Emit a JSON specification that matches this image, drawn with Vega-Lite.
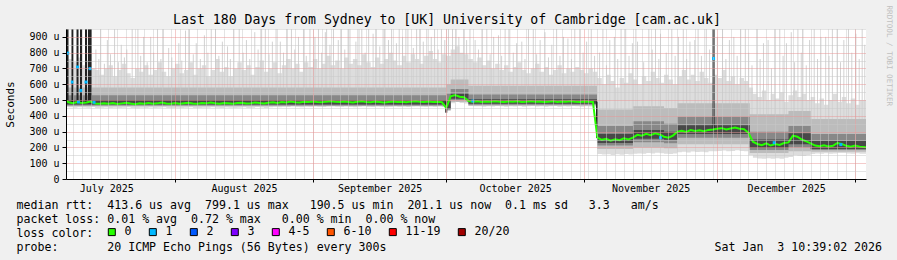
{
"$schema":"https://vega.github.io/schema/vega-lite/v6.json",
"width":800,"height":150,"autosize":"none",
"padding":{"left":66,"top":29,"right":31,"bottom":81},
"background":"#f0f0f0",
"config":{"view":{"fill":"#ffffff","stroke":null},"font":"DejaVu Sans Mono",
 "axis":{"labelFont":"DejaVu Sans Mono","titleFont":"DejaVu Sans Mono","labelColor":"#000","titleColor":"#000","titleFontWeight":"normal"}},
"title":{"text":"Last 180 Days from Sydney to [UK] University of Cambridge [cam.ac.uk]","font":"DejaVu Sans Mono","fontSize":13.2,"fontWeight":"normal","color":"#000","anchor":"middle","dx":-19,"dy":26},
"datasets":{
"day":[
{"d":"2025-07-07","m":505,"lo":458,"hi":780},{"d":"2025-07-08","m":486,"lo":455,"hi":760},{"d":"2025-07-09","m":480,"lo":452,"hi":740},{"d":"2025-07-10","m":488,"lo":455,"hi":770},{"d":"2025-07-11","m":481,"lo":453,"hi":720},{"d":"2025-07-12","m":484,"lo":452,"hi":750},{"d":"2025-07-13","m":490,"lo":456,"hi":700},{"d":"2025-07-14","m":478,"lo":450,"hi":690},{"d":"2025-07-15","m":476,"lo":451,"hi":660},{"d":"2025-07-16","m":480,"lo":453,"hi":700},
{"d":"2025-07-17","m":477,"lo":450,"hi":720},{"d":"2025-07-18","m":481,"lo":452,"hi":650},{"d":"2025-07-19","m":475,"lo":449,"hi":690},{"d":"2025-07-20","m":479,"lo":451,"hi":730},{"d":"2025-07-21","m":483,"lo":454,"hi":670},{"d":"2025-07-22","m":478,"lo":450,"hi":640},{"d":"2025-07-23","m":474,"lo":448,"hi":700},{"d":"2025-07-24","m":480,"lo":452,"hi":680},{"d":"2025-07-25","m":477,"lo":450,"hi":720},{"d":"2025-07-26","m":482,"lo":453,"hi":660},
{"d":"2025-07-27","m":476,"lo":449,"hi":690},{"d":"2025-07-28","m":479,"lo":451,"hi":740},{"d":"2025-07-29","m":484,"lo":455,"hi":680},{"d":"2025-07-30","m":478,"lo":450,"hi":650},{"d":"2025-07-31","m":476,"lo":449,"hi":700},{"d":"2025-08-01","m":481,"lo":452,"hi":730},{"d":"2025-08-02","m":477,"lo":450,"hi":670},{"d":"2025-08-03","m":480,"lo":452,"hi":690},{"d":"2025-08-04","m":483,"lo":454,"hi":740},{"d":"2025-08-05","m":478,"lo":450,"hi":660},
{"d":"2025-08-06","m":476,"lo":449,"hi":700},{"d":"2025-08-07","m":481,"lo":452,"hi":720},{"d":"2025-08-08","m":479,"lo":451,"hi":650},{"d":"2025-08-09","m":484,"lo":455,"hi":690},{"d":"2025-08-10","m":480,"lo":452,"hi":760},{"d":"2025-08-11","m":477,"lo":450,"hi":680},{"d":"2025-08-12","m":482,"lo":453,"hi":710},{"d":"2025-08-13","m":479,"lo":451,"hi":650},{"d":"2025-08-14","m":476,"lo":449,"hi":700},{"d":"2025-08-15","m":481,"lo":452,"hi":740},
{"d":"2025-08-16","m":483,"lo":454,"hi":690},{"d":"2025-08-17","m":478,"lo":450,"hi":720},{"d":"2025-08-18","m":480,"lo":452,"hi":660},{"d":"2025-08-19","m":485,"lo":456,"hi":710},{"d":"2025-08-20","m":481,"lo":453,"hi":750},{"d":"2025-08-21","m":478,"lo":450,"hi":680},{"d":"2025-08-22","m":483,"lo":454,"hi":700},{"d":"2025-08-23","m":486,"lo":457,"hi":740},{"d":"2025-08-24","m":482,"lo":454,"hi":670},{"d":"2025-08-25","m":488,"lo":458,"hi":720},
{"d":"2025-08-26","m":485,"lo":456,"hi":760},{"d":"2025-08-27","m":490,"lo":460,"hi":700},{"d":"2025-08-28","m":486,"lo":457,"hi":730},{"d":"2025-08-29","m":484,"lo":455,"hi":680},{"d":"2025-08-30","m":489,"lo":459,"hi":740},{"d":"2025-08-31","m":487,"lo":457,"hi":710},{"d":"2025-09-01","m":491,"lo":461,"hi":760},{"d":"2025-09-02","m":488,"lo":458,"hi":700},{"d":"2025-09-03","m":486,"lo":456,"hi":730},{"d":"2025-09-04","m":490,"lo":460,"hi":780},
{"d":"2025-09-05","m":493,"lo":462,"hi":720},{"d":"2025-09-06","m":489,"lo":459,"hi":750},{"d":"2025-09-07","m":487,"lo":457,"hi":700},{"d":"2025-09-08","m":491,"lo":461,"hi":770},{"d":"2025-09-09","m":488,"lo":458,"hi":730},{"d":"2025-09-10","m":485,"lo":455,"hi":760},{"d":"2025-09-11","m":489,"lo":459,"hi":720},{"d":"2025-09-12","m":492,"lo":462,"hi":790},{"d":"2025-09-13","m":488,"lo":458,"hi":740},{"d":"2025-09-14","m":486,"lo":456,"hi":710},
{"d":"2025-09-15","m":490,"lo":460,"hi":770},{"d":"2025-09-16","m":487,"lo":457,"hi":730},{"d":"2025-09-17","m":484,"lo":454,"hi":760},{"d":"2025-09-18","m":488,"lo":458,"hi":800},{"d":"2025-09-19","m":491,"lo":461,"hi":750},{"d":"2025-09-20","m":487,"lo":457,"hi":720},{"d":"2025-09-21","m":489,"lo":459,"hi":780},{"d":"2025-09-22","m":486,"lo":456,"hi":740},{"d":"2025-09-23","m":490,"lo":460,"hi":790},{"d":"2025-09-24","m":493,"lo":463,"hi":760},
{"d":"2025-09-25","m":489,"lo":459,"hi":730},{"d":"2025-09-26","m":487,"lo":457,"hi":780},{"d":"2025-09-27","m":491,"lo":461,"hi":810},{"d":"2025-09-28","m":488,"lo":458,"hi":760},{"d":"2025-09-29","m":490,"lo":460,"hi":740},{"d":"2025-09-30","m":487,"lo":456,"hi":790},{"d":"2025-10-01","m":450,"lo":430,"hi":780},{"d":"2025-10-02","m":524,"lo":480,"hi":820},{"d":"2025-10-03","m":532,"lo":488,"hi":840},{"d":"2025-10-04","m":521,"lo":482,"hi":800},
{"d":"2025-10-05","m":518,"lo":478,"hi":790},{"d":"2025-10-06","m":494,"lo":462,"hi":760},{"d":"2025-10-07","m":490,"lo":460,"hi":740},{"d":"2025-10-08","m":492,"lo":461,"hi":770},{"d":"2025-10-09","m":488,"lo":458,"hi":720},{"d":"2025-10-10","m":491,"lo":460,"hi":750},{"d":"2025-10-11","m":489,"lo":459,"hi":700},{"d":"2025-10-12","m":493,"lo":462,"hi":730},{"d":"2025-10-13","m":490,"lo":460,"hi":690},{"d":"2025-10-14","m":487,"lo":457,"hi":720},
{"d":"2025-10-15","m":491,"lo":461,"hi":680},{"d":"2025-10-16","m":489,"lo":459,"hi":710},{"d":"2025-10-17","m":492,"lo":462,"hi":740},{"d":"2025-10-18","m":488,"lo":458,"hi":690},{"d":"2025-10-19","m":490,"lo":460,"hi":670},{"d":"2025-10-20","m":493,"lo":462,"hi":700},{"d":"2025-10-21","m":489,"lo":459,"hi":730},{"d":"2025-10-22","m":491,"lo":461,"hi":680},{"d":"2025-10-23","m":487,"lo":457,"hi":710},{"d":"2025-10-24","m":490,"lo":460,"hi":660},
{"d":"2025-10-25","m":492,"lo":462,"hi":690},{"d":"2025-10-26","m":488,"lo":458,"hi":720},{"d":"2025-10-27","m":491,"lo":461,"hi":670},{"d":"2025-10-28","m":489,"lo":459,"hi":700},{"d":"2025-10-29","m":493,"lo":463,"hi":680},{"d":"2025-10-30","m":490,"lo":460,"hi":710},{"d":"2025-10-31","m":488,"lo":458,"hi":690},{"d":"2025-11-01","m":491,"lo":461,"hi":670},{"d":"2025-11-02","m":489,"lo":459,"hi":700},{"d":"2025-11-03","m":488,"lo":458,"hi":680},
{"d":"2025-11-04","m":262,"lo":158,"hi":640},{"d":"2025-11-05","m":248,"lo":155,"hi":600},{"d":"2025-11-06","m":255,"lo":157,"hi":660},{"d":"2025-11-07","m":243,"lo":152,"hi":620},{"d":"2025-11-08","m":252,"lo":156,"hi":580},{"d":"2025-11-09","m":246,"lo":154,"hi":640},{"d":"2025-11-10","m":258,"lo":158,"hi":610},{"d":"2025-11-11","m":250,"lo":155,"hi":670},{"d":"2025-11-12","m":262,"lo":160,"hi":630},{"d":"2025-11-13","m":280,"lo":162,"hi":600},
{"d":"2025-11-14","m":274,"lo":160,"hi":650},{"d":"2025-11-15","m":286,"lo":165,"hi":620},{"d":"2025-11-16","m":278,"lo":162,"hi":680},{"d":"2025-11-17","m":290,"lo":166,"hi":640},{"d":"2025-11-18","m":282,"lo":163,"hi":610},{"d":"2025-11-19","m":268,"lo":160,"hi":660},{"d":"2025-11-20","m":262,"lo":158,"hi":630},{"d":"2025-11-21","m":275,"lo":162,"hi":600},{"d":"2025-11-22","m":300,"lo":170,"hi":650},{"d":"2025-11-23","m":306,"lo":172,"hi":690},
{"d":"2025-11-24","m":298,"lo":168,"hi":630},{"d":"2025-11-25","m":310,"lo":174,"hi":660},{"d":"2025-11-26","m":304,"lo":171,"hi":620},{"d":"2025-11-27","m":308,"lo":173,"hi":680},{"d":"2025-11-28","m":302,"lo":170,"hi":640},{"d":"2025-11-29","m":311,"lo":175,"hi":610},{"d":"2025-11-30","m":314,"lo":176,"hi":660},{"d":"2025-12-01","m":318,"lo":178,"hi":640},{"d":"2025-12-02","m":322,"lo":180,"hi":690},{"d":"2025-12-03","m":314,"lo":176,"hi":620},
{"d":"2025-12-04","m":320,"lo":178,"hi":650},{"d":"2025-12-05","m":326,"lo":182,"hi":600},{"d":"2025-12-06","m":318,"lo":178,"hi":640},{"d":"2025-12-07","m":316,"lo":176,"hi":620},{"d":"2025-12-08","m":292,"lo":150,"hi":580},{"d":"2025-12-09","m":236,"lo":135,"hi":540},{"d":"2025-12-10","m":222,"lo":130,"hi":520},{"d":"2025-12-11","m":214,"lo":128,"hi":560},{"d":"2025-12-12","m":226,"lo":132,"hi":500},{"d":"2025-12-13","m":212,"lo":128,"hi":540},
{"d":"2025-12-14","m":222,"lo":131,"hi":510},{"d":"2025-12-15","m":216,"lo":129,"hi":550},{"d":"2025-12-16","m":228,"lo":134,"hi":490},{"d":"2025-12-17","m":232,"lo":140,"hi":530},{"d":"2025-12-18","m":275,"lo":150,"hi":560},{"d":"2025-12-19","m":268,"lo":148,"hi":520},{"d":"2025-12-20","m":250,"lo":145,"hi":540},{"d":"2025-12-21","m":238,"lo":150,"hi":500},{"d":"2025-12-22","m":226,"lo":158,"hi":520},{"d":"2025-12-23","m":212,"lo":162,"hi":480},
{"d":"2025-12-24","m":208,"lo":160,"hi":510},{"d":"2025-12-25","m":214,"lo":163,"hi":470},{"d":"2025-12-26","m":206,"lo":160,"hi":500},{"d":"2025-12-27","m":210,"lo":162,"hi":540},{"d":"2025-12-28","m":228,"lo":165,"hi":490},{"d":"2025-12-29","m":222,"lo":164,"hi":520},{"d":"2025-12-30","m":210,"lo":162,"hi":480},{"d":"2025-12-31","m":204,"lo":160,"hi":510},{"d":"2026-01-01","m":212,"lo":163,"hi":470},{"d":"2026-01-02","m":205,"lo":160,"hi":500},
{"d":"2026-01-03T10:39Z","m":201,"lo":160,"hi":500}
],
"band":[
{"d":"2025-07-07","a1":460,"a2":580,"b1":466,"b2":530,"c1":472,"c2":500},
{"d":"2025-10-01","a1":436,"a2":600,"b1":440,"b2":540,"c1":444,"c2":492},
{"d":"2025-10-02","a1":488,"a2":630,"b1":500,"b2":570,"c1":508,"c2":538},
{"d":"2025-10-06","a1":464,"a2":590,"b1":470,"b2":535,"c1":476,"c2":505},
{"d":"2025-11-03T22:00Z","a1":190,"a2":440,"b1":212,"b2":335,"c1":228,"c2":285},
{"d":"2025-11-12","a1":200,"a2":460,"b1":232,"b2":365,"c1":255,"c2":310},
{"d":"2025-11-19","a1":195,"a2":450,"b1":226,"b2":350,"c1":248,"c2":300},
{"d":"2025-11-22","a1":220,"a2":480,"b1":262,"b2":395,"c1":285,"c2":340},
{"d":"2025-12-08T07:00Z","a1":165,"a2":410,"b1":183,"b2":300,"c1":196,"c2":250},
{"d":"2025-12-17","a1":175,"a2":430,"b1":200,"b2":335,"c1":220,"c2":290},
{"d":"2025-12-22","a1":172,"a2":380,"b1":183,"b2":285,"c1":190,"c2":240},
{"d":"2026-01-03T10:39Z","a1":172,"a2":380,"b1":183,"b2":285,"c1":190,"c2":240}
],
"spike":[
{"t":"2025-07-14T04:00Z","lo":560,"hi":820},{"t":"2025-07-14T20:00Z","lo":560,"hi":760},{"t":"2025-07-15T06:00Z","lo":560,"hi":950},{"t":"2025-07-16T02:00Z","lo":560,"hi":730},{"t":"2025-07-16T18:00Z","lo":560,"hi":880},{"t":"2025-07-17T11:00Z","lo":560,"hi":790},{"t":"2025-07-18T09:00Z","lo":560,"hi":950},{"t":"2025-07-19T05:00Z","lo":560,"hi":740},{"t":"2025-07-19T21:00Z","lo":560,"hi":850},{"t":"2025-07-20T14:00Z","lo":560,"hi":770},
{"t":"2025-07-21T03:00Z","lo":560,"hi":820},{"t":"2025-07-22T08:00Z","lo":560,"hi":950},{"t":"2025-07-23T15:00Z","lo":560,"hi":950},{"t":"2025-07-24T06:00Z","lo":560,"hi":780},{"t":"2025-07-24T22:00Z","lo":560,"hi":900},{"t":"2025-07-25T17:00Z","lo":560,"hi":740},{"t":"2025-07-26T12:00Z","lo":560,"hi":900},{"t":"2025-07-27T04:00Z","lo":560,"hi":800},{"t":"2025-07-28T01:00Z","lo":560,"hi":950},{"t":"2025-07-28T19:00Z","lo":560,"hi":760},
{"t":"2025-07-29T08:00Z","lo":560,"hi":950},{"t":"2025-07-30T13:00Z","lo":560,"hi":830},{"t":"2025-07-31T06:00Z","lo":560,"hi":770},{"t":"2025-08-01T20:00Z","lo":560,"hi":860},{"t":"2025-08-02T12:00Z","lo":560,"hi":750},{"t":"2025-08-03T08:00Z","lo":560,"hi":940},{"t":"2025-08-04T05:00Z","lo":560,"hi":950},{"t":"2025-08-05T02:00Z","lo":560,"hi":790},{"t":"2025-08-05T18:00Z","lo":560,"hi":860},{"t":"2025-08-06T16:00Z","lo":560,"hi":760},
{"t":"2025-08-07T14:00Z","lo":560,"hi":910},{"t":"2025-08-08T09:00Z","lo":560,"hi":800},{"t":"2025-08-09T03:00Z","lo":560,"hi":950},{"t":"2025-08-10T02:00Z","lo":560,"hi":950},{"t":"2025-08-10T20:00Z","lo":560,"hi":780},{"t":"2025-08-11T15:00Z","lo":560,"hi":870},{"t":"2025-08-12T19:00Z","lo":560,"hi":840},{"t":"2025-08-13T10:00Z","lo":560,"hi":760},{"t":"2025-08-14T05:00Z","lo":560,"hi":950},{"t":"2025-08-15T10:00Z","lo":560,"hi":950},
{"t":"2025-08-16T07:00Z","lo":560,"hi":800},{"t":"2025-08-17T01:00Z","lo":560,"hi":880},{"t":"2025-08-17T19:00Z","lo":560,"hi":760},{"t":"2025-08-18T22:00Z","lo":560,"hi":930},{"t":"2025-08-19T16:00Z","lo":560,"hi":820},{"t":"2025-08-20T11:00Z","lo":560,"hi":950},{"t":"2025-08-21T07:00Z","lo":560,"hi":950},{"t":"2025-08-22T03:00Z","lo":560,"hi":790},{"t":"2025-08-22T21:00Z","lo":560,"hi":870},{"t":"2025-08-23T17:00Z","lo":560,"hi":950},
{"t":"2025-08-24T16:00Z","lo":560,"hi":870},{"t":"2025-08-25T09:00Z","lo":560,"hi":800},{"t":"2025-08-26T05:00Z","lo":560,"hi":950},{"t":"2025-08-27T04:00Z","lo":560,"hi":950},{"t":"2025-08-27T22:00Z","lo":560,"hi":820},{"t":"2025-08-28T18:00Z","lo":560,"hi":900},{"t":"2025-08-29T21:00Z","lo":560,"hi":950},{"t":"2025-08-30T12:00Z","lo":560,"hi":780},{"t":"2025-08-31T08:00Z","lo":560,"hi":950},{"t":"2025-09-01T11:00Z","lo":560,"hi":900},
{"t":"2025-09-02T06:00Z","lo":560,"hi":950},{"t":"2025-09-02T23:00Z","lo":560,"hi":800},{"t":"2025-09-03T19:00Z","lo":560,"hi":930},{"t":"2025-09-04T02:00Z","lo":560,"hi":950},{"t":"2025-09-04T20:00Z","lo":560,"hi":850},{"t":"2025-09-05T15:00Z","lo":560,"hi":950},{"t":"2025-09-06T17:00Z","lo":560,"hi":880},{"t":"2025-09-07T10:00Z","lo":560,"hi":950},{"t":"2025-09-08T04:00Z","lo":560,"hi":820},{"t":"2025-09-08T22:00Z","lo":560,"hi":950},
{"t":"2025-09-09T08:00Z","lo":560,"hi":950},{"t":"2025-09-10T16:00Z","lo":560,"hi":870},{"t":"2025-09-11T09:00Z","lo":560,"hi":950},{"t":"2025-09-12T00:00Z","lo":560,"hi":950},{"t":"2025-09-12T18:00Z","lo":560,"hi":800},{"t":"2025-09-13T13:00Z","lo":560,"hi":950},{"t":"2025-09-14T13:00Z","lo":560,"hi":920},{"t":"2025-09-15T06:00Z","lo":560,"hi":950},{"t":"2025-09-16T01:00Z","lo":560,"hi":840},{"t":"2025-09-16T19:00Z","lo":560,"hi":950},
{"t":"2025-09-17T05:00Z","lo":560,"hi":950},{"t":"2025-09-18T00:00Z","lo":560,"hi":880},{"t":"2025-09-18T17:00Z","lo":560,"hi":950},{"t":"2025-09-19T19:00Z","lo":560,"hi":860},{"t":"2025-09-20T10:00Z","lo":560,"hi":950},{"t":"2025-09-21T04:00Z","lo":560,"hi":900},{"t":"2025-09-21T22:00Z","lo":560,"hi":950},{"t":"2025-09-22T09:00Z","lo":560,"hi":950},{"t":"2025-09-23T14:00Z","lo":560,"hi":830},{"t":"2025-09-24T08:00Z","lo":560,"hi":950},
{"t":"2025-09-25T01:00Z","lo":560,"hi":950},{"t":"2025-09-25T20:00Z","lo":560,"hi":870},{"t":"2025-09-26T15:00Z","lo":560,"hi":950},{"t":"2025-09-27T15:00Z","lo":560,"hi":900},{"t":"2025-09-28T09:00Z","lo":560,"hi":950},{"t":"2025-09-29T04:00Z","lo":560,"hi":820},{"t":"2025-09-29T22:00Z","lo":560,"hi":950},{"t":"2025-09-30T16:00Z","lo":560,"hi":880},{"t":"2025-10-01T12:00Z","lo":560,"hi":950},{"t":"2025-10-02T10:00Z","lo":600,"hi":950},
{"t":"2025-10-03T05:00Z","lo":600,"hi":950},{"t":"2025-10-03T20:00Z","lo":600,"hi":900},{"t":"2025-10-04T22:00Z","lo":600,"hi":950},{"t":"2025-10-05T14:00Z","lo":600,"hi":880},{"t":"2025-10-06T08:00Z","lo":560,"hi":950},{"t":"2025-10-07T12:00Z","lo":560,"hi":880},{"t":"2025-10-08T06:00Z","lo":560,"hi":820},{"t":"2025-10-09T01:00Z","lo":560,"hi":950},{"t":"2025-10-10T03:00Z","lo":560,"hi":950},{"t":"2025-10-10T21:00Z","lo":560,"hi":790},
{"t":"2025-10-11T16:00Z","lo":560,"hi":900},{"t":"2025-10-12T18:00Z","lo":560,"hi":910},{"t":"2025-10-13T11:00Z","lo":560,"hi":780},{"t":"2025-10-14T06:00Z","lo":560,"hi":950},{"t":"2025-10-15T07:00Z","lo":560,"hi":950},{"t":"2025-10-16T02:00Z","lo":560,"hi":800},{"t":"2025-10-16T20:00Z","lo":560,"hi":860},{"t":"2025-10-18T00:00Z","lo":560,"hi":870},{"t":"2025-10-18T17:00Z","lo":560,"hi":760},{"t":"2025-10-19T12:00Z","lo":560,"hi":950},
{"t":"2025-10-20T14:00Z","lo":560,"hi":950},{"t":"2025-10-21T08:00Z","lo":560,"hi":790},{"t":"2025-10-22T03:00Z","lo":560,"hi":880},{"t":"2025-10-23T05:00Z","lo":560,"hi":930},{"t":"2025-10-24T00:00Z","lo":560,"hi":770},{"t":"2025-10-24T18:00Z","lo":560,"hi":850},{"t":"2025-10-25T20:00Z","lo":560,"hi":950},{"t":"2025-10-26T14:00Z","lo":560,"hi":780},{"t":"2025-10-27T09:00Z","lo":560,"hi":900},{"t":"2025-10-28T09:00Z","lo":560,"hi":890},
{"t":"2025-10-29T04:00Z","lo":560,"hi":760},{"t":"2025-10-29T22:00Z","lo":560,"hi":950},{"t":"2025-10-31T01:00Z","lo":560,"hi":950},{"t":"2025-10-31T19:00Z","lo":560,"hi":800},{"t":"2025-11-01T14:00Z","lo":560,"hi":870},{"t":"2025-11-02T15:00Z","lo":560,"hi":950},{"t":"2025-11-03T09:00Z","lo":560,"hi":780},
{"t":"2025-11-04T12:00Z","lo":380,"hi":800},{"t":"2025-11-05T06:00Z","lo":380,"hi":950},{"t":"2025-11-06T01:00Z","lo":380,"hi":720},{"t":"2025-11-06T19:00Z","lo":380,"hi":880},{"t":"2025-11-07T20:00Z","lo":380,"hi":900},{"t":"2025-11-08T14:00Z","lo":380,"hi":760},{"t":"2025-11-09T08:00Z","lo":380,"hi":950},{"t":"2025-11-10T09:00Z","lo":380,"hi":950},{"t":"2025-11-11T03:00Z","lo":380,"hi":780},{"t":"2025-11-11T21:00Z","lo":380,"hi":860},
{"t":"2025-11-12T16:00Z","lo":380,"hi":950},{"t":"2025-11-13T01:00Z","lo":380,"hi":870},{"t":"2025-11-14T10:00Z","lo":380,"hi":740},{"t":"2025-11-15T14:00Z","lo":380,"hi":950},{"t":"2025-11-16T08:00Z","lo":380,"hi":820},{"t":"2025-11-17T02:00Z","lo":380,"hi":950},{"t":"2025-11-17T20:00Z","lo":380,"hi":760},{"t":"2025-11-18T05:00Z","lo":380,"hi":920},{"t":"2025-11-19T12:00Z","lo":380,"hi":800},{"t":"2025-11-20T18:00Z","lo":380,"hi":950},
{"t":"2025-11-21T12:00Z","lo":380,"hi":780},{"t":"2025-11-22T06:00Z","lo":380,"hi":900},{"t":"2025-11-23T08:00Z","lo":380,"hi":950},{"t":"2025-11-24T02:00Z","lo":380,"hi":760},{"t":"2025-11-24T20:00Z","lo":380,"hi":870},{"t":"2025-11-25T22:00Z","lo":380,"hi":880},{"t":"2025-11-26T16:00Z","lo":380,"hi":950},{"t":"2025-11-27T10:00Z","lo":380,"hi":780},{"t":"2025-11-28T12:00Z","lo":380,"hi":950},{"t":"2025-11-29T06:00Z","lo":380,"hi":820},
{"t":"2025-12-01T00:00Z","lo":380,"hi":900},{"t":"2025-12-02T04:00Z","lo":380,"hi":950},{"t":"2025-12-02T22:00Z","lo":380,"hi":760},{"t":"2025-12-03T17:00Z","lo":380,"hi":880},{"t":"2025-12-04T17:00Z","lo":380,"hi":900},{"t":"2025-12-05T11:00Z","lo":380,"hi":780},{"t":"2025-12-06T06:00Z","lo":380,"hi":950},{"t":"2025-12-07T07:00Z","lo":380,"hi":950},{"t":"2025-12-08T01:00Z","lo":380,"hi":800},{"t":"2025-12-08T19:00Z","lo":340,"hi":720},
{"t":"2025-12-09T21:00Z","lo":340,"hi":950},{"t":"2025-12-10T15:00Z","lo":340,"hi":760},{"t":"2025-12-11T09:00Z","lo":340,"hi":860},{"t":"2025-12-12T10:00Z","lo":340,"hi":880},{"t":"2025-12-13T04:00Z","lo":340,"hi":700},{"t":"2025-12-13T22:00Z","lo":340,"hi":950},{"t":"2025-12-15T01:00Z","lo":340,"hi":950},{"t":"2025-12-15T19:00Z","lo":340,"hi":780},{"t":"2025-12-16T13:00Z","lo":340,"hi":860},{"t":"2025-12-17T15:00Z","lo":340,"hi":930},
{"t":"2025-12-18T09:00Z","lo":340,"hi":740},{"t":"2025-12-19T03:00Z","lo":340,"hi":950},{"t":"2025-12-19T21:00Z","lo":340,"hi":800},{"t":"2025-12-20T06:00Z","lo":340,"hi":950},{"t":"2025-12-21T00:00Z","lo":340,"hi":720},{"t":"2025-12-21T18:00Z","lo":340,"hi":880},{"t":"2025-12-22T19:00Z","lo":340,"hi":950},{"t":"2025-12-23T13:00Z","lo":340,"hi":760},{"t":"2025-12-24T07:00Z","lo":340,"hi":900},{"t":"2025-12-25T09:00Z","lo":340,"hi":900},
{"t":"2025-12-26T03:00Z","lo":340,"hi":780},{"t":"2025-12-26T21:00Z","lo":340,"hi":950},{"t":"2025-12-27T23:00Z","lo":340,"hi":950},{"t":"2025-12-28T17:00Z","lo":340,"hi":740},{"t":"2025-12-29T11:00Z","lo":340,"hi":880},{"t":"2025-12-30T12:00Z","lo":340,"hi":950},{"t":"2025-12-31T06:00Z","lo":340,"hi":800},{"t":"2026-01-01T04:00Z","lo":340,"hi":920},{"t":"2026-01-01T22:00Z","lo":340,"hi":760},{"t":"2026-01-02T14:00Z","lo":340,"hi":950},
{"t":"2026-01-03T04:00Z","lo":340,"hi":850}
],
"burst":[
{"t":"2025-07-07T18:50Z","lo":480,"hi":950},{"t":"2025-07-08T21:40Z","lo":480,"hi":950},{"t":"2025-07-10T00:50Z","lo":480,"hi":950},{"t":"2025-07-10T19:30Z","lo":480,"hi":950},{"t":"2025-07-11T22:40Z","lo":480,"hi":950},{"t":"2025-07-12T14:40Z","lo":480,"hi":950},{"t":"2025-07-13T01:30Z","lo":480,"hi":950},
{"t":"2025-10-01T00:00Z","lo":420,"hi":490},{"t":"2025-11-03T22:00Z","lo":260,"hi":490},{"t":"2025-11-30T03:30Z","lo":320,"hi":950}
],
"loss":[
{"t":"2025-07-07T20:00Z","v":797,"loss":"1"},{"t":"2025-07-08T21:00Z","v":614,"loss":"1"},{"t":"2025-07-10T01:00Z","v":709,"loss":"1"},{"t":"2025-07-10T19:30Z","v":561,"loss":"1"},{"t":"2025-07-11T22:40Z","v":614,"loss":"1"},{"t":"2025-07-12T20:30Z","v":699,"loss":"1"},{"t":"2025-07-10T06:00Z","v":488,"loss":"1"},{"t":"2025-07-13T18:00Z","v":486,"loss":"1"},
{"t":"2025-10-07T00:00Z","v":494,"loss":"1"},{"t":"2025-11-18T05:00Z","v":262,"loss":"1"},{"t":"2025-11-30T03:30Z","v":763,"loss":"1"},{"t":"2025-12-13T19:00Z","v":230,"loss":"1"},{"t":"2025-12-28T19:00Z","v":218,"loss":"1"}
]
},
"layer":[
{"data":{"name":"day"},
 "mark":{"type":"area","interpolate":"step-after","color":"#dddddd","clip":true},
 "encoding":{
  "x":{"field":"d","type":"temporal","scale":{"type":"utc","domain":[{"year":2025,"month":7,"date":7,"hours":10,"minutes":39,"utc":true},{"year":2026,"month":1,"date":3,"hours":10,"minutes":39,"utc":true}]},
   "axis":{"orient":"bottom","values":[1752019200000,1752192000000,1752364800000,1752537600000,1752710400000,1752883200000,1753056000000,1753228800000,1753401600000,1753574400000,1753747200000,1753920000000,1754092800000,1754265600000,1754438400000,1754611200000,1754784000000,1754956800000,1755129600000,1755302400000,1755475200000,1755648000000,1755820800000,1755993600000,1756166400000,1756339200000,1756512000000,1756684800000,1756857600000,1757030400000,1757203200000,1757376000000,1757548800000,1757721600000,1757894400000,1758067200000,1758240000000,1758412800000,1758585600000,1758758400000,1758931200000,1759104000000,1759276800000,1759449600000,1759622400000,1759795200000,1759968000000,1760140800000,1760313600000,1760486400000,1760659200000,1760832000000,1761004800000,1761177600000,1761350400000,1761523200000,1761696000000,1761868800000,1762041600000,1762214400000,1762387200000,1762560000000,1762732800000,1762905600000,1763078400000,1763251200000,1763424000000,1763596800000,1763769600000,1763942400000,1764115200000,1764288000000,1764460800000,1764633600000,1764806400000,1764979200000,1765152000000,1765324800000,1765497600000,1765670400000,1765843200000,1766016000000,1766188800000,1766361600000,1766534400000,1766707200000,1766880000000,1767052800000,1767225600000],
    "grid":true,"gridColor":"#c8c8c8","gridDash":[1,1],"labels":false,"ticks":false,"domain":false,"title":null,"zindex":1}},
  "y":{"field":"lo","type":"quantitative","scale":{"domain":[0,950],"nice":false,"zero":false},
   "axis":{"orient":"left","values":[50,150,250,350,450,550,650,750,850,950],"grid":true,"gridColor":"#c8c8c8","gridDash":[1,1],"labels":false,"ticks":false,"domain":false,"title":null,"zindex":1}},
  "y2":{"field":"hi"}}},
{"data":{"name":"spike"},
 "mark":{"type":"rule","color":"#d2d2d2","strokeWidth":1,"clip":true},
 "encoding":{
  "x":{"field":"t","type":"temporal","scale":{"type":"utc"},"axis":null},
  "y":{"field":"lo","type":"quantitative","axis":null},
  "y2":{"field":"hi"}}},
{"data":{"name":"band"},
 "mark":{"type":"area","interpolate":"step-after","color":"#bcbcbc","clip":true},
 "encoding":{
  "x":{"field":"d","type":"temporal","scale":{"type":"utc"},"axis":null},
  "y":{"field":"a1","type":"quantitative","axis":null},
  "y2":{"field":"a2"}}},
{"data":{"name":"band"},
 "mark":{"type":"area","interpolate":"step-after","color":"#888888","clip":true},
 "encoding":{
  "x":{"field":"d","type":"temporal","scale":{"type":"utc"},"axis":null},
  "y":{"field":"b1","type":"quantitative","axis":null},
  "y2":{"field":"b2"}}},
{"data":{"name":"band"},
 "mark":{"type":"area","interpolate":"step-after","color":"#484848","clip":true},
 "encoding":{
  "x":{"field":"d","type":"temporal","scale":{"type":"utc"},"axis":null},
  "y":{"field":"c1","type":"quantitative","axis":null},
  "y2":{"field":"c2"}}},
{"data":{"name":"burst"},
 "mark":{"type":"rule","color":"#222222","strokeWidth":2,"clip":true},
 "encoding":{
  "x":{"field":"t","type":"temporal","scale":{"type":"utc"},"axis":null},
  "y":{"field":"lo","type":"quantitative","axis":null},
  "y2":{"field":"hi"}}},
{"data":{"name":"day"},
 "mark":{"type":"line","color":"#26ff00","strokeWidth":2,"clip":true},
 "encoding":{
  "x":{"field":"d","type":"temporal","scale":{"type":"utc"},
   "axis":{"orient":"bottom","values":[1754006400000,1756684800000,1759276800000,1761955200000,1764547200000,1767225600000],
    "grid":true,"gridColor":"#e89696","gridDash":[1,1],"labels":false,"ticks":true,"tickSize":3,"tickColor":"#000","domain":true,"domainColor":"#000","zindex":1,
    "title":["median rtt:\u00a0\u00a0413.6 us avg\u00a0\u00a0799.1 us max\u00a0\u00a0\u00a0190.5 us min\u00a0\u00a0201.1 us now\u00a0\u00a00.1 ms sd\u00a0\u00a0\u00a03.3\u00a0\u00a0\u00a0am/s","packet loss:\u00a00.01 % avg\u00a0\u00a00.72 % max\u00a0\u00a0\u00a00.00 % min\u00a0\u00a00.00 % now","loss color:","probe:\u00a0\u00a0\u00a0\u00a0\u00a0\u00a0\u00a020 ICMP Echo Pings (56 Bytes) every 300s\u00a0\u00a0\u00a0\u00a0\u00a0\u00a0\u00a0\u00a0\u00a0\u00a0\u00a0\u00a0\u00a0\u00a0\u00a0\u00a0\u00a0\u00a0\u00a0\u00a0\u00a0\u00a0\u00a0\u00a0\u00a0\u00a0\u00a0\u00a0\u00a0\u00a0\u00a0\u00a0\u00a0\u00a0\u00a0\u00a0\u00a0\u00a0\u00a0\u00a0\u00a0\u00a0\u00a0\u00a0\u00a0\u00a0\u00a0Sat Jan\u00a0\u00a03 10:39:02 2026"],
    "titleX":-50,"titleY":29.5,"titleAlign":"left","titleBaseline":"alphabetic","titleFontSize":11.6,"titleLineHeight":14}},
  "y":{"field":"m","type":"quantitative",
   "axis":{"orient":"left","values":[0,100,200,300,400,500,600,700,800,900],"grid":true,"gridColor":"#e89696","gridDash":[1,1],"ticks":true,"tickSize":4,"tickColor":"#000","domain":true,"domainColor":"#000","labelFontSize":10,"labelPadding":3,
    "labelExpr":"datum.value == 0 ? '0' : datum.value + ' u'","title":"Seconds","titleFontSize":11,"titlePadding":13,"zindex":1}}}},
{"data":{"name":"loss"},
 "mark":{"type":"point","shape":"square","filled":true,"size":9,"opacity":1,"clip":true},
 "encoding":{
  "x":{"field":"t","type":"temporal","scale":{"type":"utc"},
   "axis":{"orient":"bottom","values":[1752667200000,1755345600000,1757980800000,1760616000000,1763251200000,1765886400000],"labelExpr":"utcFormat(datum.value, '%B %Y')","grid":false,"ticks":false,"tickSize":0,"domain":false,"labelFontSize":10,"labelPadding":4,"labelFlush":false,"labelOverlap":false,"title":null}},
  "y":{"field":"v","type":"quantitative",
   "axis":{"orient":"right","labels":false,"ticks":false,"domain":false,"grid":false,"title":"RRDTOOL / TOBI OETIKER","titleAngle":90,"titleFontSize":7.6,"titleColor":"#c0c0c0","titleX":22,"titleY":-24,"titleAlign":"left","titleBaseline":"middle"}},
  "color":{"field":"loss","type":"nominal",
   "scale":{"domain":["0","1","2","3","4-5","6-10","11-19","20/20"],"range":["#26ff00","#00b8ff","#0059ff","#7e00ff","#ff00ff","#ff5500","#ff0000","#a10000"]},
   "legend":{"orient":"none","legendX":40,"legendY":197,"direction":"horizontal","title":null,"symbolType":"square","symbolSize":49,"symbolStrokeColor":"#000","symbolStrokeWidth":1,"symbolOpacity":1,"labelFont":"DejaVu Sans Mono","labelFontSize":11.6,"labelColor":"#000","labelOffset":7,"columnPadding":15,"padding":0,"offset":0}}}}
],
"resolve":{"axis":{"x":"independent","y":"independent"}}
}
